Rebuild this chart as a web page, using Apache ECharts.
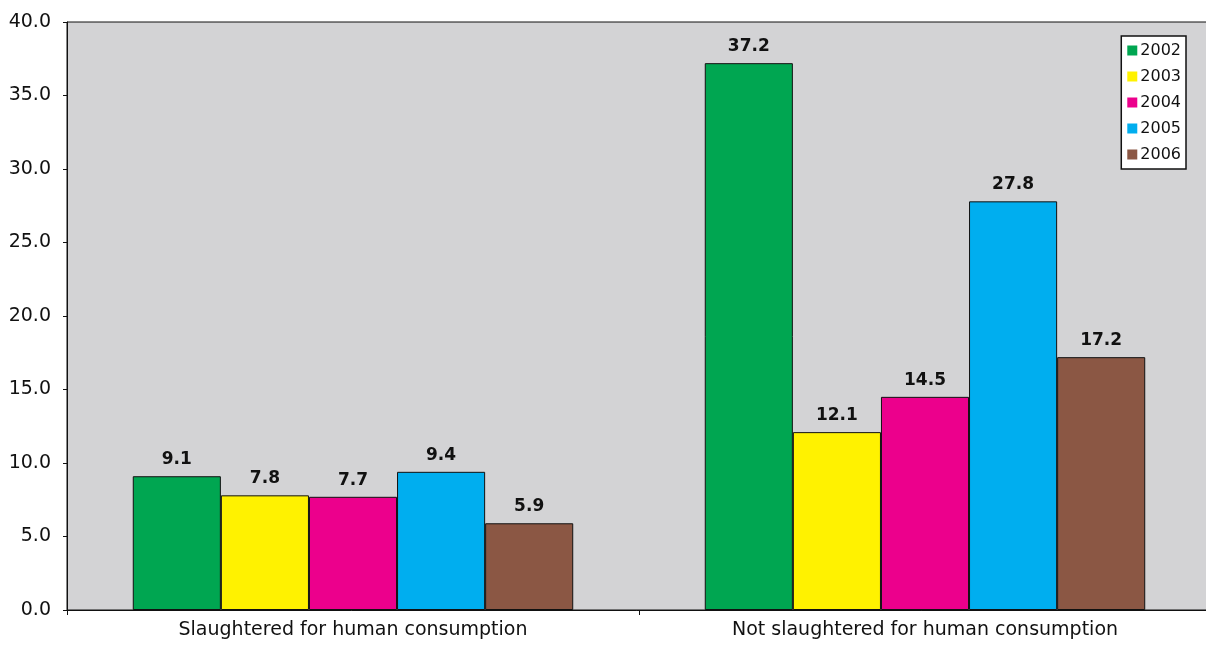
<!DOCTYPE html>
<html>
<head>
  <meta charset="utf-8">
</head>
<body style="margin: 0">
  <div id="container" style="width: 1206px; height: 645px"></div>
  <script src="https://cdn.jsdelivr.net/npm/echarts@6/dist/echarts.min.js"></script>
  <script>
    var categories = ['Slaughtered for human consumption', 'Not slaughtered for human consumption'];
    var years = ['2002', '2003', '2004', '2005', '2006'];
    var values = {
      '2002': [9.1, 37.2],
      '2003': [7.8, 12.1],
      '2004': [7.7, 14.5],
      '2005': [9.4, 27.8],
      '2006': [5.9, 17.2]
    };
    var colors = ['#00a651', '#fff200', '#ec008c', '#00aeef', '#8b5744'];

    var chart = echarts.init(document.getElementById('container'));

    var series = years.map(function (y, i) {
      return {
        name: y,
        type: 'bar',
        data: values[y],
        barGap: '0%',
        barCategoryGap: '23%',
        itemStyle: { color: colors[i], borderColor: '#111', borderWidth: 1 },
        label: {
          show: true,
          position: 'top',
          distance: 8,
          formatter: function (p) { return p.value.toFixed(1); },
          fontFamily: 'DejaVu Sans',
          fontWeight: 'bold',
          fontSize: 17,
          color: '#111'
        }
      };
    });

    chart.setOption({
      animation: false,
      color: colors,
      grid: {
        left: 67, width: 1144, top: 22, bottom: 35,
        outerBoundsMode: 'none',
        show: true, backgroundColor: '#d3d3d5', borderColor: '#111', borderWidth: 1
      },
      legend: {
        orient: 'vertical',
        right: 20,
        top: 36,
        backgroundColor: '#fff',
        borderColor: '#111',
        borderWidth: 1.5,
        borderRadius: 0,
        padding: [5, 5, 5, 6],
        itemWidth: 10,
        itemHeight: 10,
        itemGap: 7,
        icon: 'rect',
        itemStyle: { borderWidth: 0 },
        textStyle: { fontFamily: 'DejaVu Sans', fontSize: 16, color: '#111', padding: [0, 0, 0, -2], lineHeight: 19 },
        data: years
      },
      xAxis: {
        type: 'category',
        data: categories,
        axisLine: { lineStyle: { color: '#111' } },
        axisTick: { show: true, length: 5, lineStyle: { color: '#111' } },
        axisLabel: { fontFamily: 'DejaVu Sans', fontSize: 19, color: '#111', margin: 11 }
      },
      yAxis: {
        type: 'value',
        min: 0,
        max: 40,
        interval: 5,
        axisLine: { show: true, lineStyle: { color: '#111' } },
        axisTick: { show: true, length: 4, lineStyle: { color: '#111' } },
        splitLine: { show: false },
        axisLabel: {
          fontFamily: 'DejaVu Sans', fontSize: 19, color: '#111', margin: 16,
          formatter: function (v) { return v.toFixed(1); }
        }
      },
      series: series
    });
  </script>
</body>
</html>
